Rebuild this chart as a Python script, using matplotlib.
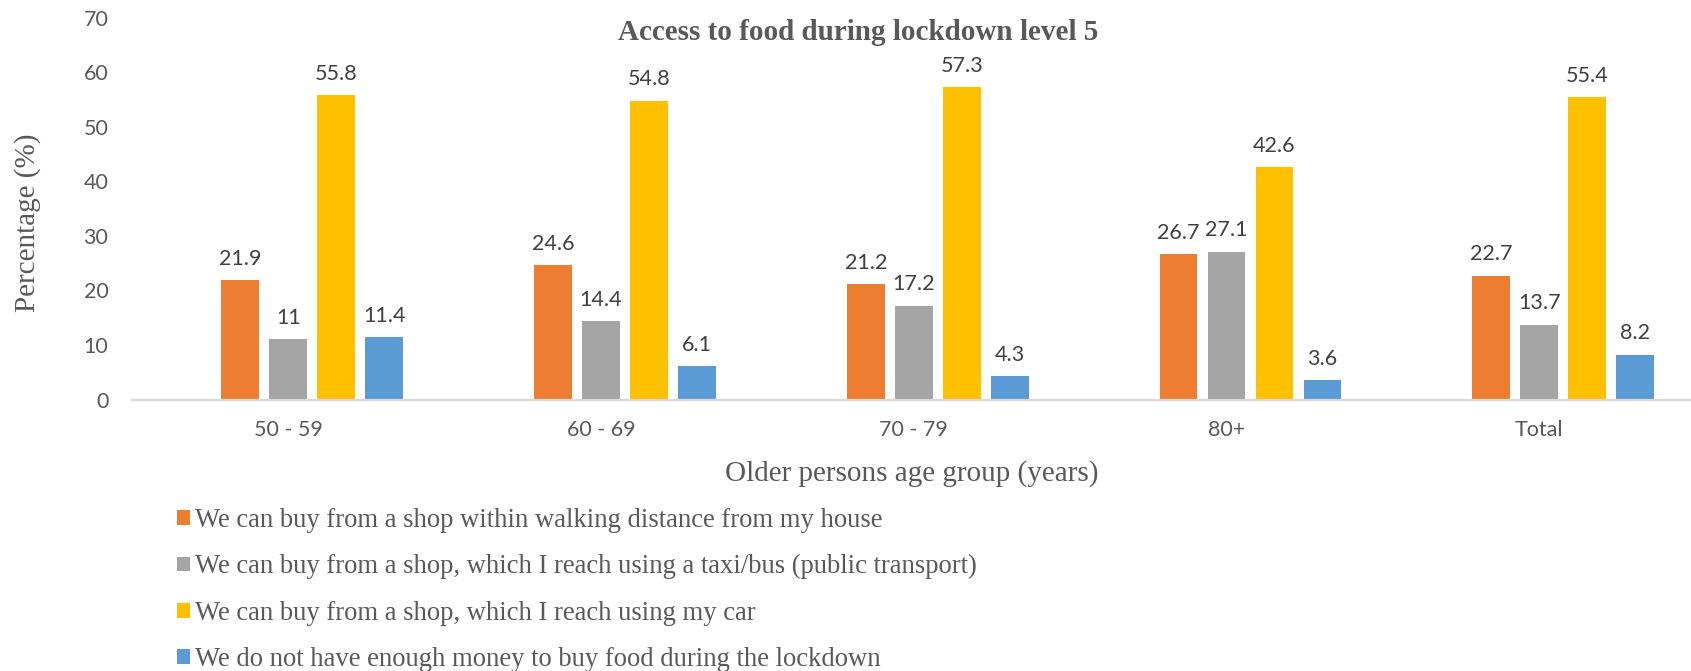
import matplotlib
matplotlib.use("Agg")
import matplotlib.pyplot as plt
import numpy as np

# data
groups = ["50 - 59", "60 - 69", "70 - 79", "80+", "Total"]
series = [
    "We can buy from a shop within walking distance from my house",
    "We can buy from a shop, which I reach using a taxi/bus (public transport)",
    "We can buy from a shop, which I reach using my car",
    "We do not have enough money to buy food during the lockdown",
]
walking = [21.9, 24.6, 21.2, 26.7, 22.7]
taxi_bus = [11, 14.4, 17.2, 27.1, 13.7]
own_car = [55.8, 54.8, 57.3, 42.6, 55.4]
no_money = [11.4, 6.1, 4.3, 3.6, 8.2]
colors = ["#ED7D31", "#A5A5A5", "#FFC000", "#5B9BD5"]

W, H = 1691, 671
fig = plt.figure(figsize=(W / 100, H / 100), dpi=100)
ax = fig.add_axes([132 / W, 1 - 399.5 / H, 1563.5 / W, 381.9 / H])

x = np.arange(len(groups))
pitch = 0.1535
width = 0.121
# Excel layout: gray bar sits on the category centre
offsets = [-1, 0, 1, 2]
label_font = ["Lato", "DejaVu Sans"]
bars = []
for vals, off, c, name in zip([walking, taxi_bus, own_car, no_money], offsets, colors, series):
    b = ax.bar(x + off * pitch, vals, width, color=c, label=name, zorder=2)
    bars.append(b)
    for rect, v in zip(b, vals):
        ax.annotate(f"{v:g}", (rect.get_x() + rect.get_width() / 2, v),
                    xytext=(0, 11), textcoords="offset points",
                    ha="center", va="baseline", fontsize=15.5,
                    family=label_font, color="#404040")

ax.set_xlim(-0.5, len(groups) - 0.5)
ax.set_ylim(0, 70)
ax.set_yticks(range(0, 71, 10))
ax.set_xticks(x)
ax.set_xticklabels(groups)
for s in ["top", "right", "left"]:
    ax.spines[s].set_visible(False)
ax.spines["bottom"].set_color("#D9D9D9")
ax.spines["bottom"].set_linewidth(1.6)
ax.tick_params(axis="both", length=0, labelsize=15.5, labelcolor="#595959")
ax.tick_params(axis="y", pad=17)
ax.tick_params(axis="x", pad=15)
for t in ax.get_xticklabels() + ax.get_yticklabels():
    t.set_family(label_font)

serif = ["Liberation Serif", "DejaVu Serif"]
fig.text(858 / W, 1 - 33 / H, "Access to food during lockdown level 5",
         ha="center", va="center", fontsize=21, fontweight="bold",
         family=serif, color="#595959")
fig.text(28 / W, 1 - 223 / H, "Percentage (%)", rotation=90,
         ha="center", va="center", fontsize=21, family=serif, color="#595959")
fig.text(912 / W, 1 - 474 / H, "Older persons age group (years)",
         ha="center", va="center", fontsize=21, family=serif, color="#595959")

fig.legend(handles=bars, labels=series, loc="upper left",
           bbox_to_anchor=(177 / W, 1 - 508 / H), bbox_transform=fig.transFigure,
           frameon=False, borderpad=0, borderaxespad=0,
           handlelength=0.48, handleheight=0.48, handletextpad=0.2,
           labelspacing=0.8, labelcolor="#595959",
           prop={"family": serif, "size": 19.2})

fig.savefig("out.png", dpi=100)
